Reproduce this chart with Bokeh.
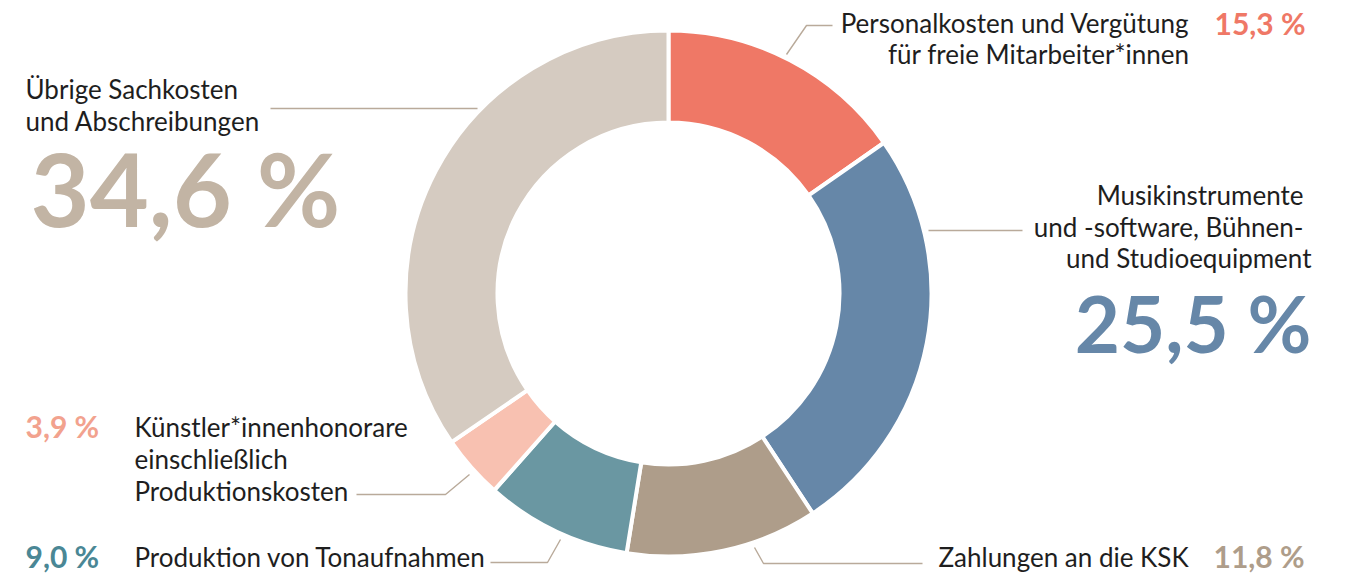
import math
from bokeh.plotting import figure
from bokeh.models import Range1d, ColumnDataSource
from bokeh.core.properties import value
from bokeh.embed import file_html
from bokeh.resources import INLINE

# ---------------- data ----------------
categories = [
    "Personalkosten und Vergütung für freie Mitarbeiter*innen",
    "Musikinstrumente und -software, Bühnen- und Studioequipment",
    "Zahlungen an die KSK",
    "Produktion von Tonaufnahmen",
    "Künstler*innenhonorare einschließlich Produktionskosten",
    "Übrige Sachkosten und Abschreibungen",
]
shares = [15.3, 25.5, 11.8, 9.0, 3.9, 34.6]
pct_labels = ["15,3 %", "25,5 %", "11,8 %", "9,0 %", "3,9 %", "34,6 %"]
label_lines = [
    ["Personalkosten und Vergütung", "für freie Mitarbeiter*innen"],
    ["Musikinstrumente", "und -software, Bühnen-", "und Studioequipment"],
    ["Zahlungen an die KSK"],
    ["Produktion von Tonaufnahmen"],
    ["Künstler*innenhonorare", "einschließlich", "Produktionskosten"],
    ["Übrige Sachkosten", "und Abschreibungen"],
]
slice_colors = ["#EF7866", "#6687A8", "#AE9D8A", "#6A97A2", "#F8C1B1", "#D5CBC1"]
pct_colors = ["#EF7866", "#6687A8", "#AE9D8A", "#4A8795", "#F2A28E", "#C2B4A4"]

# ---------------- layout ----------------
W, H = 1348, 577


def Y(y_img):
    return H - y_img


p = figure(width=W, height=H, output_backend="svg", toolbar_location=None,
           x_range=Range1d(0, W), y_range=Range1d(0, H),
           x_axis_location=None, y_axis_location=None, min_border=0,
           background_fill_color="white", border_fill_color="white")
p.grid.visible = False
p.outline_line_color = None

cx, cy = 668, Y(293)
total = sum(shares)
starts, ends = [], []
acc = 0.0
for s in shares:
    starts.append(math.pi / 2 - 2 * math.pi * acc / total)
    acc += s
    ends.append(math.pi / 2 - 2 * math.pi * acc / total)

src = ColumnDataSource(dict(x=[cx] * len(shares), y=[cy] * len(shares),
                            start=starts, end=ends, color=slice_colors, cat=categories))
p.annular_wedge(x="x", y="y", inner_radius=171, outer_radius=263,
                start_angle="start", end_angle="end", direction="clock",
                fill_color="color", line_color="white", line_width=4, source=src)

# leader lines (layout, image pixel coordinates)
LEAD = "#B9AA9A"
leaders = [
    [(786, 54), (806, 25), (832, 25)],
    [(928, 230), (1022, 230)],
    [(754, 547), (763, 563), (922, 563)],
    [(560, 539), (547, 562), (490, 562)],
    [(469, 474), (445, 494), (356, 494)],
    [(270, 108), (477, 108)],
]
for pts in leaders:
    p.line([a for a, b in pts], [Y(b) for a, b in pts], line_color=LEAD, line_width=1.4)

FONT = value("Lato")
TXT = "#1E1E1E"
BASE_SHIFT = 0.40  # observed offset of the rendered alphabetic baseline (in em)


def txt(x, baseline, s, size, color=TXT, align="left", bold=False):
    yy = baseline - BASE_SHIFT * size
    p.text(x=[x], y=[Y(yy)], text=[s], text_font=FONT, text_font_size=f"{size}px",
           text_color=color, text_align=align, text_baseline="alphabetic",
           text_font_style="bold" if bold else "normal")


# Personalkosten
txt(1189, 33, label_lines[0][0], 26, align="right")
txt(1189, 64, label_lines[0][1], 26, align="right")
txt(1214, 34, pct_labels[0], 30, pct_colors[0], bold=True)

# Musikinstrumente
txt(1303, 205, label_lines[1][0], 26, align="right")
txt(1303, 237, label_lines[1][1], 26, align="right")
txt(1311, 268, label_lines[1][2], 26, align="right")
txt(1311, 354, pct_labels[1], 78, pct_colors[1], align="right", bold=True)

# KSK
txt(938, 567, label_lines[2][0], 26)
txt(1213, 567, pct_labels[2], 30, pct_colors[2], bold=True)

# Tonaufnahmen
txt(134, 567, label_lines[3][0], 26)
txt(25, 567, pct_labels[3], 30, pct_colors[3], bold=True)

# Künstler
txt(134, 437, label_lines[4][0], 26)
txt(134, 469, label_lines[4][1], 26)
txt(134, 501, label_lines[4][2], 26)
txt(25, 437, pct_labels[4], 30, pct_colors[4], bold=True)

# Übrige
txt(25, 99, label_lines[5][0], 26)
txt(25, 131, label_lines[5][1], 26)
txt(30, 228, pct_labels[5], 102, pct_colors[5], bold=True)

open("out.html", "w").write(file_html(p, INLINE))
